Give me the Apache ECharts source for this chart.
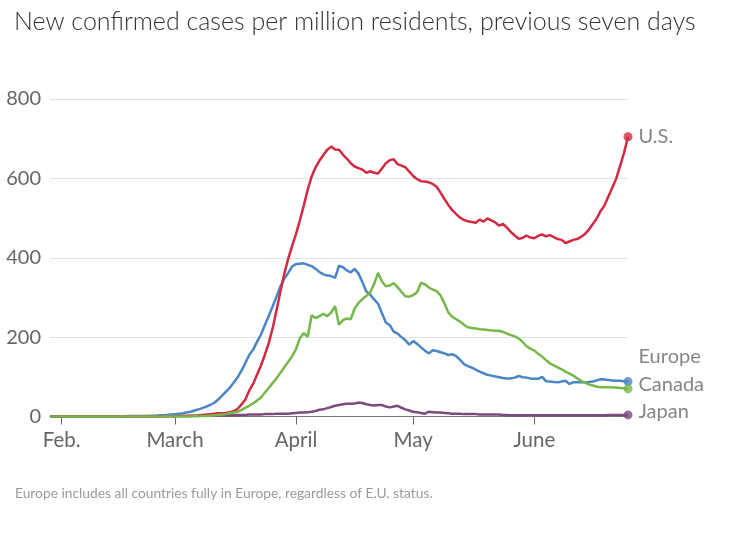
<!DOCTYPE html>
<html>
<head>
<meta charset="utf-8">
<script src="https://cdn.jsdelivr.net/npm/echarts@6/dist/echarts.min.js"></script>
<style>
html,body{margin:0;padding:0;background:#fff;}
#chart{width:750px;height:534px;}
</style>
</head>
<body>
<div id="chart"></div>
<script>
// Daily values starting 2020-01-29, ending 2020-06-25
const startDate = '2020-01-29';
const monthLabels = {2: 'Feb.', 3: 'March', 4: 'April', 5: 'May', 6: 'June'};
const yTicks = [0, 200, 400, 600, 800];

const europe = [
  0,0,0,0,0,0,0,0,0,0,
  0,0,0,0,0,0,0,0,0,0,
  1,1,1,1,1,1,2,2,3,3,
  4,5,6,7,8,10,12,15,18,21,
  25,29,34,42,52,62,72,85,98,115,
  134,155,168,188,206,230,253,277,302,328,
  347,362,378,384,385,386,382,379,372,364,
  358,355,354,349,380,376,368,363,372,360,
  338,315,307,295,284,260,237,230,214,209,
  200,192,181,190,183,174,166,159,167,165,
  162,159,155,157,152,143,132,127,123,118,
  113,109,105,103,101,99,97,96,96,98,
  102,99,98,96,95,95,100,89,88,87,
  86,88,90,82,86,86,86,86,87,88,
  91,94,93,92,91,90,90,89,88
];
const us = [
  0,0,0,0,0,0,0,0,0,0,
  0,0,0,0,0,0,0,0,0,0,
  0,0,0,0,0,0,0,0,0,0,
  0,0,0,1,1,1,2,2,3,4,
  5,6,7,8,8,9,11,13,19,30,
  42,65,82,105,128,155,185,222,268,315,
  360,398,430,460,495,532,572,605,628,645,
  659,672,680,673,672,660,650,638,630,626,
  622,614,618,614,612,625,638,646,648,636,
  632,628,617,606,598,593,592,590,586,579,
  564,548,533,520,510,501,495,492,490,488,
  496,491,499,494,489,481,485,476,465,456,
  448,450,456,451,449,455,459,454,457,452,
  447,445,437,441,445,447,453,460,471,485,
  499,518,532,555,577,600,632,665,705
];
const canada = [
  0,0,0,0,0,0,0,0,0,0,
  0,0,0,0,0,0,0,0,0,0,
  0,0,0,0,0,0,0,0,0,0,
  0,0,0,0,0,0,0,1,1,1,
  1,2,3,4,5,6,8,10,12,16,
  22,27,33,40,48,60,72,84,96,110,
  124,138,152,170,198,210,201,255,248,253,
  259,253,262,278,231,243,247,245,272,286,
  296,304,313,334,362,340,328,330,336,326,
  314,303,302,306,313,337,333,325,320,316,
  305,285,262,251,245,239,231,225,223,222,
  220,219,218,217,216,216,213,209,205,202,
  197,188,177,171,166,158,151,142,134,129,
  124,119,113,108,103,96,90,85,81,78,
  75,74,74,74,73,73,72,71,70
];
const japan = [
  0,0,0,0,0,0,0,0,0,0,
  0,0,0,0,0,0,0,0,0,0,
  0,0,0,0,0,0,0,0,1,1,
  1,1,1,1,1,1,1,1,1,2,
  2,2,2,3,3,3,3,3,4,4,
  4,5,5,5,5,6,6,6,7,7,
  7,7,8,9,10,10,11,12,14,17,
  18,21,24,27,29,31,32,32,33,35,
  34,31,29,28,29,29,25,23,25,27,
  22,18,15,12,11,9,7,12,11,10,
  10,9,8,7,7,7,6,6,6,6,
  5,5,5,5,5,5,4,4,3,3,
  3,3,3,3,3,3,3,3,3,3,
  3,3,3,3,3,3,3,3,3,3,
  3,3,3,4,4,4,4,4,4
];

// date categories (one per data value)
const dates = [];
(function(){
  const d0 = new Date(startDate + 'T00:00:00Z');
  for (let i = 0; i < us.length; i++) {
    const d = new Date(d0.getTime() + i * 86400000);
    dates.push(d.toISOString().slice(0, 10));
  }
})();

const FONT = 'Lato, "Noto Sans", sans-serif';
const seriesDefs = [
  {name: 'Japan', data: japan, color: '#7b4b7d', offset: [0, -3]},
  {name: 'Europe', data: europe, color: '#4a85c4', offset: [0, -25]},
  {name: 'U.S.', data: us, color: '#d22a42', offset: [0, 0]},
  {name: 'Canada', data: canada, color: '#76b74a', offset: [0, -4]}
];

const isMonthStart = (idx, val) => val.slice(8) === '01';

const series = [];
seriesDefs.forEach(s => {
  series.push({
    name: s.name, type: 'line', data: s.data, showSymbol: false,
    lineStyle: {color: s.color, width: 2.5}, itemStyle: {color: s.color},
    z: 3, silent: true
  });
});
seriesDefs.forEach(s => {
  const last = s.data.length - 1;
  series.push({
    name: s.name + ' end', type: 'scatter', symbolSize: 9,
    itemStyle: {color: s.color}, z: 5, silent: true,
    data: [[dates[last], s.data[last]]],
    label: {
      show: true, position: 'right', distance: 6, formatter: s.name,
      color: '#666', fontSize: 20, fontFamily: FONT, offset: s.offset
    }
  });
});

const chart = echarts.init(document.getElementById('chart'), null, {renderer: 'canvas'});
chart.setOption({
  animation: false,
  backgroundColor: '#fff',
  title: [
    {text: 'New confirmed cases per million residents, previous seven days',
     left: 9, top: 4,
     textStyle: {fontSize: 25, fontWeight: 300, color: '#333', fontFamily: FONT}},
    {text: 'Europe includes all countries fully in Europe, regardless of E.U. status.',
     left: 10, top: 482,
     textStyle: {fontSize: 13.8, fontWeight: 'normal', color: '#9a9a9a', fontFamily: FONT}}
  ],
  grid: {left: 50, right: 122, top: 99, bottom: 117.5, containLabel: false},
  xAxis: {
    type: 'category', data: dates, boundaryGap: false,
    axisLine: {show: true, lineStyle: {color: '#777', width: 1}},
    axisTick: {show: true, interval: isMonthStart, length: 8, lineStyle: {color: '#666'}},
    axisLabel: {
      interval: isMonthStart, color: '#666', fontSize: 20.5, fontFamily: FONT, margin: 13,
      formatter: v => monthLabels[parseInt(v.slice(5, 7), 10)] || ''
    },
    splitLine: {show: false}
  },
  yAxis: {
    type: 'value', min: yTicks[0], max: yTicks[yTicks.length - 1], interval: 200,
    axisLine: {show: false}, axisTick: {show: false},
    axisLabel: {color: '#666', fontSize: 20, fontFamily: FONT, margin: 9},
    splitLine: {lineStyle: {color: '#e2e2e2', width: 1}}
  },
  series: series
});
</script>
</body>
</html>
